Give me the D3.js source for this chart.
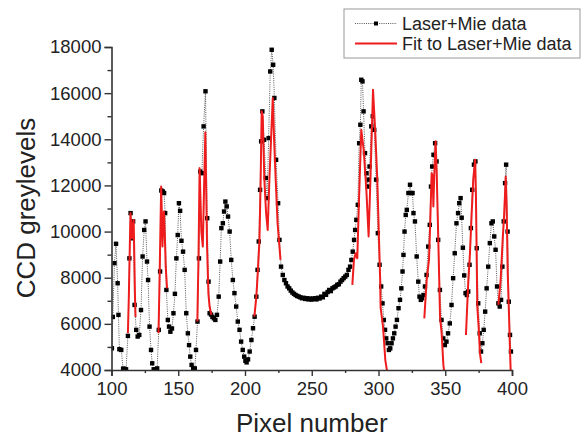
<!DOCTYPE html>
<html>
<head>
<meta charset="utf-8">
<script src="https://cdn.jsdelivr.net/npm/d3@7"></script>
<style>
  html, body { margin: 0; padding: 0; background: #fff; }
  svg { display: block; }
  text { font-family: "Liberation Sans", Arial, sans-serif; fill: #222; }
</style>
</head>
<body>
<svg id="chart" width="583" height="437"></svg>
<script>
// Measured CCD profile (pixel, greylevel)
const pixel = [
  100.3, 101.0, 102.2, 103.4, 104.6, 105.2, 105.9, 107.3, 108.7, 109.8, 110.9,
  112.3, 113.4, 114.3, 115.3, 116.2, 117.3, 118.5, 119.6, 120.8, 122.1, 123.3,
  124.5, 125.5, 126.6, 127.4, 128.5, 129.6, 130.5, 131.6, 133.0, 134.2, 135.4,
  136.4, 137.3, 138.4, 139.4, 140.2, 141.1, 142.2, 143.1, 144.1, 145.3, 146.4,
  147.5, 148.6, 149.6, 150.5, 151.4, 152.4, 153.6, 154.8, 156.0, 157.2, 158.1,
  159.0, 160.0, 161.2, 162.4, 163.3, 164.4, 165.5, 166.5, 167.7, 169.0, 170.4,
  171.7, 172.7, 173.5, 174.6, 175.6, 176.7, 177.8, 179.0, 180.3, 181.4, 182.3,
  183.4, 184.3, 185.3, 186.3, 187.3, 188.5, 189.7, 190.9, 192.1, 193.4, 194.6,
  195.9, 197.1, 198.3, 199.4, 200.3, 201.2, 202.3, 203.5, 204.8, 206.0, 207.2,
  208.5, 209.4, 210.3, 211.3, 212.1, 213.0, 214.3, 215.6, 216.6, 217.7, 218.9,
  220.0, 221.1, 222.0, 223.3, 224.8, 225.8, 227.0, 228.3, 229.5, 230.7, 231.9,
  233.1, 234.3, 235.5, 236.7, 237.9, 239.1, 240.3, 241.5, 242.7, 243.9, 245.1,
  246.3, 247.5, 248.7, 249.9, 251.1, 252.3, 253.5, 254.7, 255.9, 257.1, 258.3,
  259.5, 260.7, 261.9, 263.1, 264.3, 265.5, 266.7, 267.9, 269.1, 270.3, 271.5,
  272.7, 273.9, 275.1, 276.3, 277.5, 278.7, 279.7, 280.7, 281.7, 282.5, 283.4,
  284.5, 285.5, 286.4, 287.1, 288.0, 288.8, 289.9, 291.0, 291.9, 292.6, 293.3,
  294.6, 295.7, 296.8, 298.2, 299.5, 300.8, 302.0, 303.0, 304.0, 304.9, 305.8,
  306.8, 307.8, 308.8, 309.8, 310.8, 311.8, 312.8, 313.8, 315.0, 316.1, 317.1,
  318.0, 318.7, 319.5, 320.4, 321.2, 322.4, 323.6, 324.5, 325.5, 326.2, 327.3,
  328.6, 329.8, 330.7, 331.7, 332.6, 333.7, 334.8, 336.0, 337.2, 338.4, 339.3,
  340.2, 341.2, 342.4, 343.5, 344.7, 346.0, 347.2, 348.5, 349.7, 350.9, 352.1,
  353.4, 354.7, 355.9, 357.1, 358.4, 359.6, 360.5, 361.5, 362.3, 363.2, 364.2,
  365.2, 366.2, 367.2, 368.2, 369.2, 370.2, 371.5, 372.6, 373.6, 374.7, 375.8,
  376.8, 377.8, 378.8, 379.9, 381.0, 382.2, 383.4, 384.6, 385.6, 386.7, 387.7,
  388.8, 389.8, 390.8, 391.8, 392.8, 393.8, 394.8, 395.6, 396.7, 397.6, 398.5,
  399.2
];
const greylevel = [
  4940, 6300, 8630, 9470, 7760, 6390, 4900, 4870, 4060, 4050, 4030,
  5480, 8840, 10800, 9710, 10440, 6820, 5740, 5450, 5520, 6600, 8920,
  10070, 10440, 8700, 7900, 5880, 4870, 4290, 4030, 4020, 4070, 5740,
  8270, 11780, 11740, 11670, 10800, 7470, 6170, 5880, 5660, 5800, 6460,
  7300, 8840, 9850, 11230, 10900, 9600, 9130, 8340, 6460, 5590, 5080,
  4580, 4220, 4050, 4070, 4870, 6100, 8840, 12600, 12530, 14560, 16080,
  10580, 7830, 6460, 6400, 6300, 6240, 6170, 6390, 7180, 8700, 10150,
  10360, 10870, 11300, 11090, 10650, 10000, 8770, 7900, 7330, 6750, 6100,
  5740, 5230, 4870, 4580, 4400, 4330, 4460, 4800, 5300, 5810, 6310,
  7180, 8340, 9570, 11810, 13910, 15210, 13980, 12320, 11450, 14050, 16940,
  17880, 17230, 15790, 13110, 11230, 9640, 8480, 8120, 7900, 7760, 7620,
  7540, 7440, 7360, 7300, 7250, 7210, 7180, 7150, 7110, 7130, 7080,
  7110, 7060, 7100, 7050, 7090, 7110, 7060, 7130, 7100, 7180, 7150,
  7300, 7260, 7380, 7470, 7420, 7540, 7580, 7620, 7690, 7720, 7830,
  7900, 7980, 8050, 8120, 8340, 8480, 8770, 9130, 9640, 10070, 10510,
  11160, 13830, 14630, 16580, 16510, 15210, 13400, 12530, 11950, 12250, 12820,
  14560, 15000, 14410, 12250, 9930, 8560, 7620, 6890, 6170, 5740, 5370,
  5160, 4870, 4940, 5160, 5370, 5590, 5880, 6170, 6680, 7040, 7540,
  8270, 8990, 10000, 10720, 10940, 11670, 12030, 11670, 11670, 10800, 10440,
  8920, 7830, 7180, 7040, 7110, 7250, 7620, 8120, 9350, 10290, 11950,
  12820, 13330, 13830, 13040, 9640, 7470, 6170, 5370, 5080, 5230, 5590,
  6020, 6820, 7980, 9060, 10360, 10800, 11230, 11450, 10600, 9300, 8100,
  7330, 7250, 7400, 8560, 10150, 11810, 12900, 13040, 9280, 6890, 5590,
  4800, 5160, 5740, 6530, 7540, 8480, 9500, 10360, 10440, 9790, 9210,
  7620, 6890, 6750, 7040, 8480, 10440, 12100, 12900, 10000, 6960, 5520,
  4800
];

// Fitted model around each resonance peak, one segment per peak
const fitPixel = [
  [112.3, 113.0, 113.6, 114.2, 114.8, 115.4, 116.0, 116.6, 117.1, 117.6, 118.0],
  [135.2, 135.8, 136.5, 137.2, 137.7, 138.2, 138.7, 139.3, 139.9, 140.6, 141.6],
  [164.3, 165.2, 166.0, 166.7, 167.3, 168.4, 169.3, 170.3, 170.9, 171.6, 172.6, 173.5, 174.8],
  [207.0, 208.5, 209.7, 210.8, 211.6, 212.5, 213.3, 214.5, 215.8, 217.0, 218.3, 219.5, 220.8, 221.8, 223.0, 224.4, 225.6, 226.6],
  [280.4, 281.6, 282.9, 284.1, 285.4, 287.1, 288.9, 290.9, 292.6, 294.1, 295.9, 297.6, 299.1, 300.1, 301.2, 301.6, 303.4, 305.1, 307.1],
  [334.3, 336.1, 337.8, 338.6, 339.8, 340.6, 341.1, 341.8, 342.8, 343.6, 344.8, 346.1, 347.3, 348.6, 349.8],
  [365.5, 367.3, 368.5, 369.8, 371.0, 372.4, 373.0, 374.0, 375.0, 376.0, 377.0],
  [389.8, 391.5, 393.0, 394.2, 395.3, 396.0, 396.8, 397.8, 398.5, 399.0]
];
const fitGreylevel = [
  [5600, 7200, 9000, 10800, 10300, 9700, 10300, 10500, 8900, 7200, 6300],
  [5590, 7300, 9600, 11950, 10800, 9350, 10400, 10870, 9900, 8500, 7540],
  [6100, 9000, 12750, 11300, 10000, 9350, 11800, 14300, 12000, 9300, 7300, 6750, 6390],
  [6310, 7180, 8340, 9570, 11810, 15210, 15000, 12250, 10800, 10070, 12300, 13980, 15790, 14000, 12250, 10360, 9490, 8770],
  [7690, 8770, 9060, 8840, 11380, 14410, 13550, 11810, 9790, 12530, 16150, 14270, 12250, 10220, 8000, 6700, 5880, 4430, 3700],
  [6240, 7900, 8770, 10100, 12530, 12400, 11090, 12500, 13910, 12530, 9640, 6310, 5590, 4220, 3640],
  [5520, 7900, 9060, 10800, 12250, 13110, 11520, 6750, 5880, 4720, 4300],
  [6820, 7900, 9640, 10800, 12390, 11090, 8200, 6310, 4870, 4000]
];

const xTicks = [100, 150, 200, 250, 300, 350, 400];
const xMinorTicks = [125, 175, 225, 275, 325, 375];
const yTicks = [4000, 6000, 8000, 10000, 12000, 14000, 16000, 18000];
const yMinorTicks = [5000, 7000, 9000, 11000, 13000, 15000, 17000];
const legendLabels = ["Laser+Mie data", "Fit to Laser+Mie data"];

const svg = d3.select("#chart");
const plot = { left: 111.5, right: 512, top: 47, bottom: 370 };
const axisColor = "#333";
const fitColor = "#ee1c1c";

const x = d3.scaleLinear().domain([100, 400]).range([plot.left, plot.right]);
const y = d3.scaleLinear().domain([4000, 18000]).range([plot.bottom, plot.top]);

svg.append("defs").append("clipPath").attr("id", "plotClip")
  .append("rect")
  .attr("x", plot.left).attr("y", plot.top - 10)
  .attr("width", plot.right - plot.left + 10)
  .attr("height", plot.bottom - plot.top + 10);

const data = pixel.map((p, i) => ({ p, g: greylevel[i] }));
const line = d3.line().x(d => x(d.p)).y(d => y(d.g));

const layer = svg.append("g").attr("clip-path", "url(#plotClip)");

// dotted connector through the measured points
layer.append("path")
  .datum(data)
  .attr("d", line)
  .attr("fill", "none")
  .attr("stroke", "#444")
  .attr("stroke-width", 0.9)
  .attr("stroke-dasharray", "1,1.2");

// measured points as small squares
const ms = 4.4;
layer.selectAll("rect.pt")
  .data(data)
  .join("rect")
  .attr("class", "pt")
  .attr("x", d => x(d.p) - ms / 2)
  .attr("y", d => y(d.g) - ms / 2)
  .attr("width", ms)
  .attr("height", ms)
  .attr("fill", "#000");

// fitted curves
fitPixel.forEach((seg, k) => {
  const pts = seg.map((p, i) => ({ p, g: fitGreylevel[k][i] }));
  layer.append("path")
    .datum(pts)
    .attr("d", line)
    .attr("fill", "none")
    .attr("stroke", fitColor)
    .attr("stroke-width", 2)
    .attr("stroke-linejoin", "round");
});

// axes
svg.append("g")
  .attr("transform", `translate(0,${plot.bottom})`)
  .call(d3.axisBottom(x).tickValues(xTicks).tickSize(6).tickPadding(6).tickFormat(d3.format("d")));
svg.append("g")
  .attr("transform", `translate(0,${plot.bottom})`)
  .call(d3.axisBottom(x).tickValues(xMinorTicks).tickSize(3).tickFormat(""))
  .call(g => g.select(".domain").remove());

svg.append("g")
  .attr("transform", `translate(${plot.left},0)`)
  .call(d3.axisLeft(y).tickValues(yTicks).tickSize(7).tickPadding(3).tickFormat(d3.format("d")));
svg.append("g")
  .attr("transform", `translate(${plot.left},0)`)
  .call(d3.axisLeft(y).tickValues(yMinorTicks).tickSize(4).tickFormat(""))
  .call(g => g.select(".domain").remove());

svg.selectAll(".domain").attr("stroke", axisColor).attr("stroke-width", 1.6);
svg.selectAll(".tick line").attr("stroke", axisColor).attr("stroke-width", 1.4);
svg.selectAll(".tick text")
  .attr("font-size", 18.5)
  .attr("font-family", "'Liberation Sans', Arial, sans-serif")
  .attr("fill", "#222");

// axis titles
svg.append("text")
  .attr("x", (plot.left + plot.right) / 2)
  .attr("y", 432)
  .attr("text-anchor", "middle")
  .attr("font-size", 26)
  .text("Pixel number");

svg.append("text")
  .attr("transform", `translate(35,208) rotate(-90)`)
  .attr("text-anchor", "middle")
  .attr("font-size", 26)
  .text("CCD greylevels");

// legend
const lg = svg.append("g").attr("transform", "translate(344,9)");
lg.append("rect")
  .attr("width", 236).attr("height", 49)
  .attr("fill", "#fff")
  .attr("stroke", "#999")
  .attr("stroke-width", 1);
lg.append("line")
  .attr("x1", 11).attr("x2", 53).attr("y1", 14.5).attr("y2", 14.5)
  .attr("stroke", "#444").attr("stroke-width", 0.9).attr("stroke-dasharray", "1,1.2");
lg.append("rect")
  .attr("x", 32 - 2).attr("y", 14.5 - 2).attr("width", 4).attr("height", 4)
  .attr("fill", "#000");
lg.append("line")
  .attr("x1", 11).attr("x2", 53).attr("y1", 34.5).attr("y2", 34.5)
  .attr("stroke", fitColor).attr("stroke-width", 2);
lg.selectAll("text.lbl")
  .data(legendLabels)
  .join("text")
  .attr("class", "lbl")
  .attr("x", 58)
  .attr("y", (d, i) => 20.5 + i * 20)
  .attr("font-size", 18)
  .text(d => d);
</script>
</body>
</html>
